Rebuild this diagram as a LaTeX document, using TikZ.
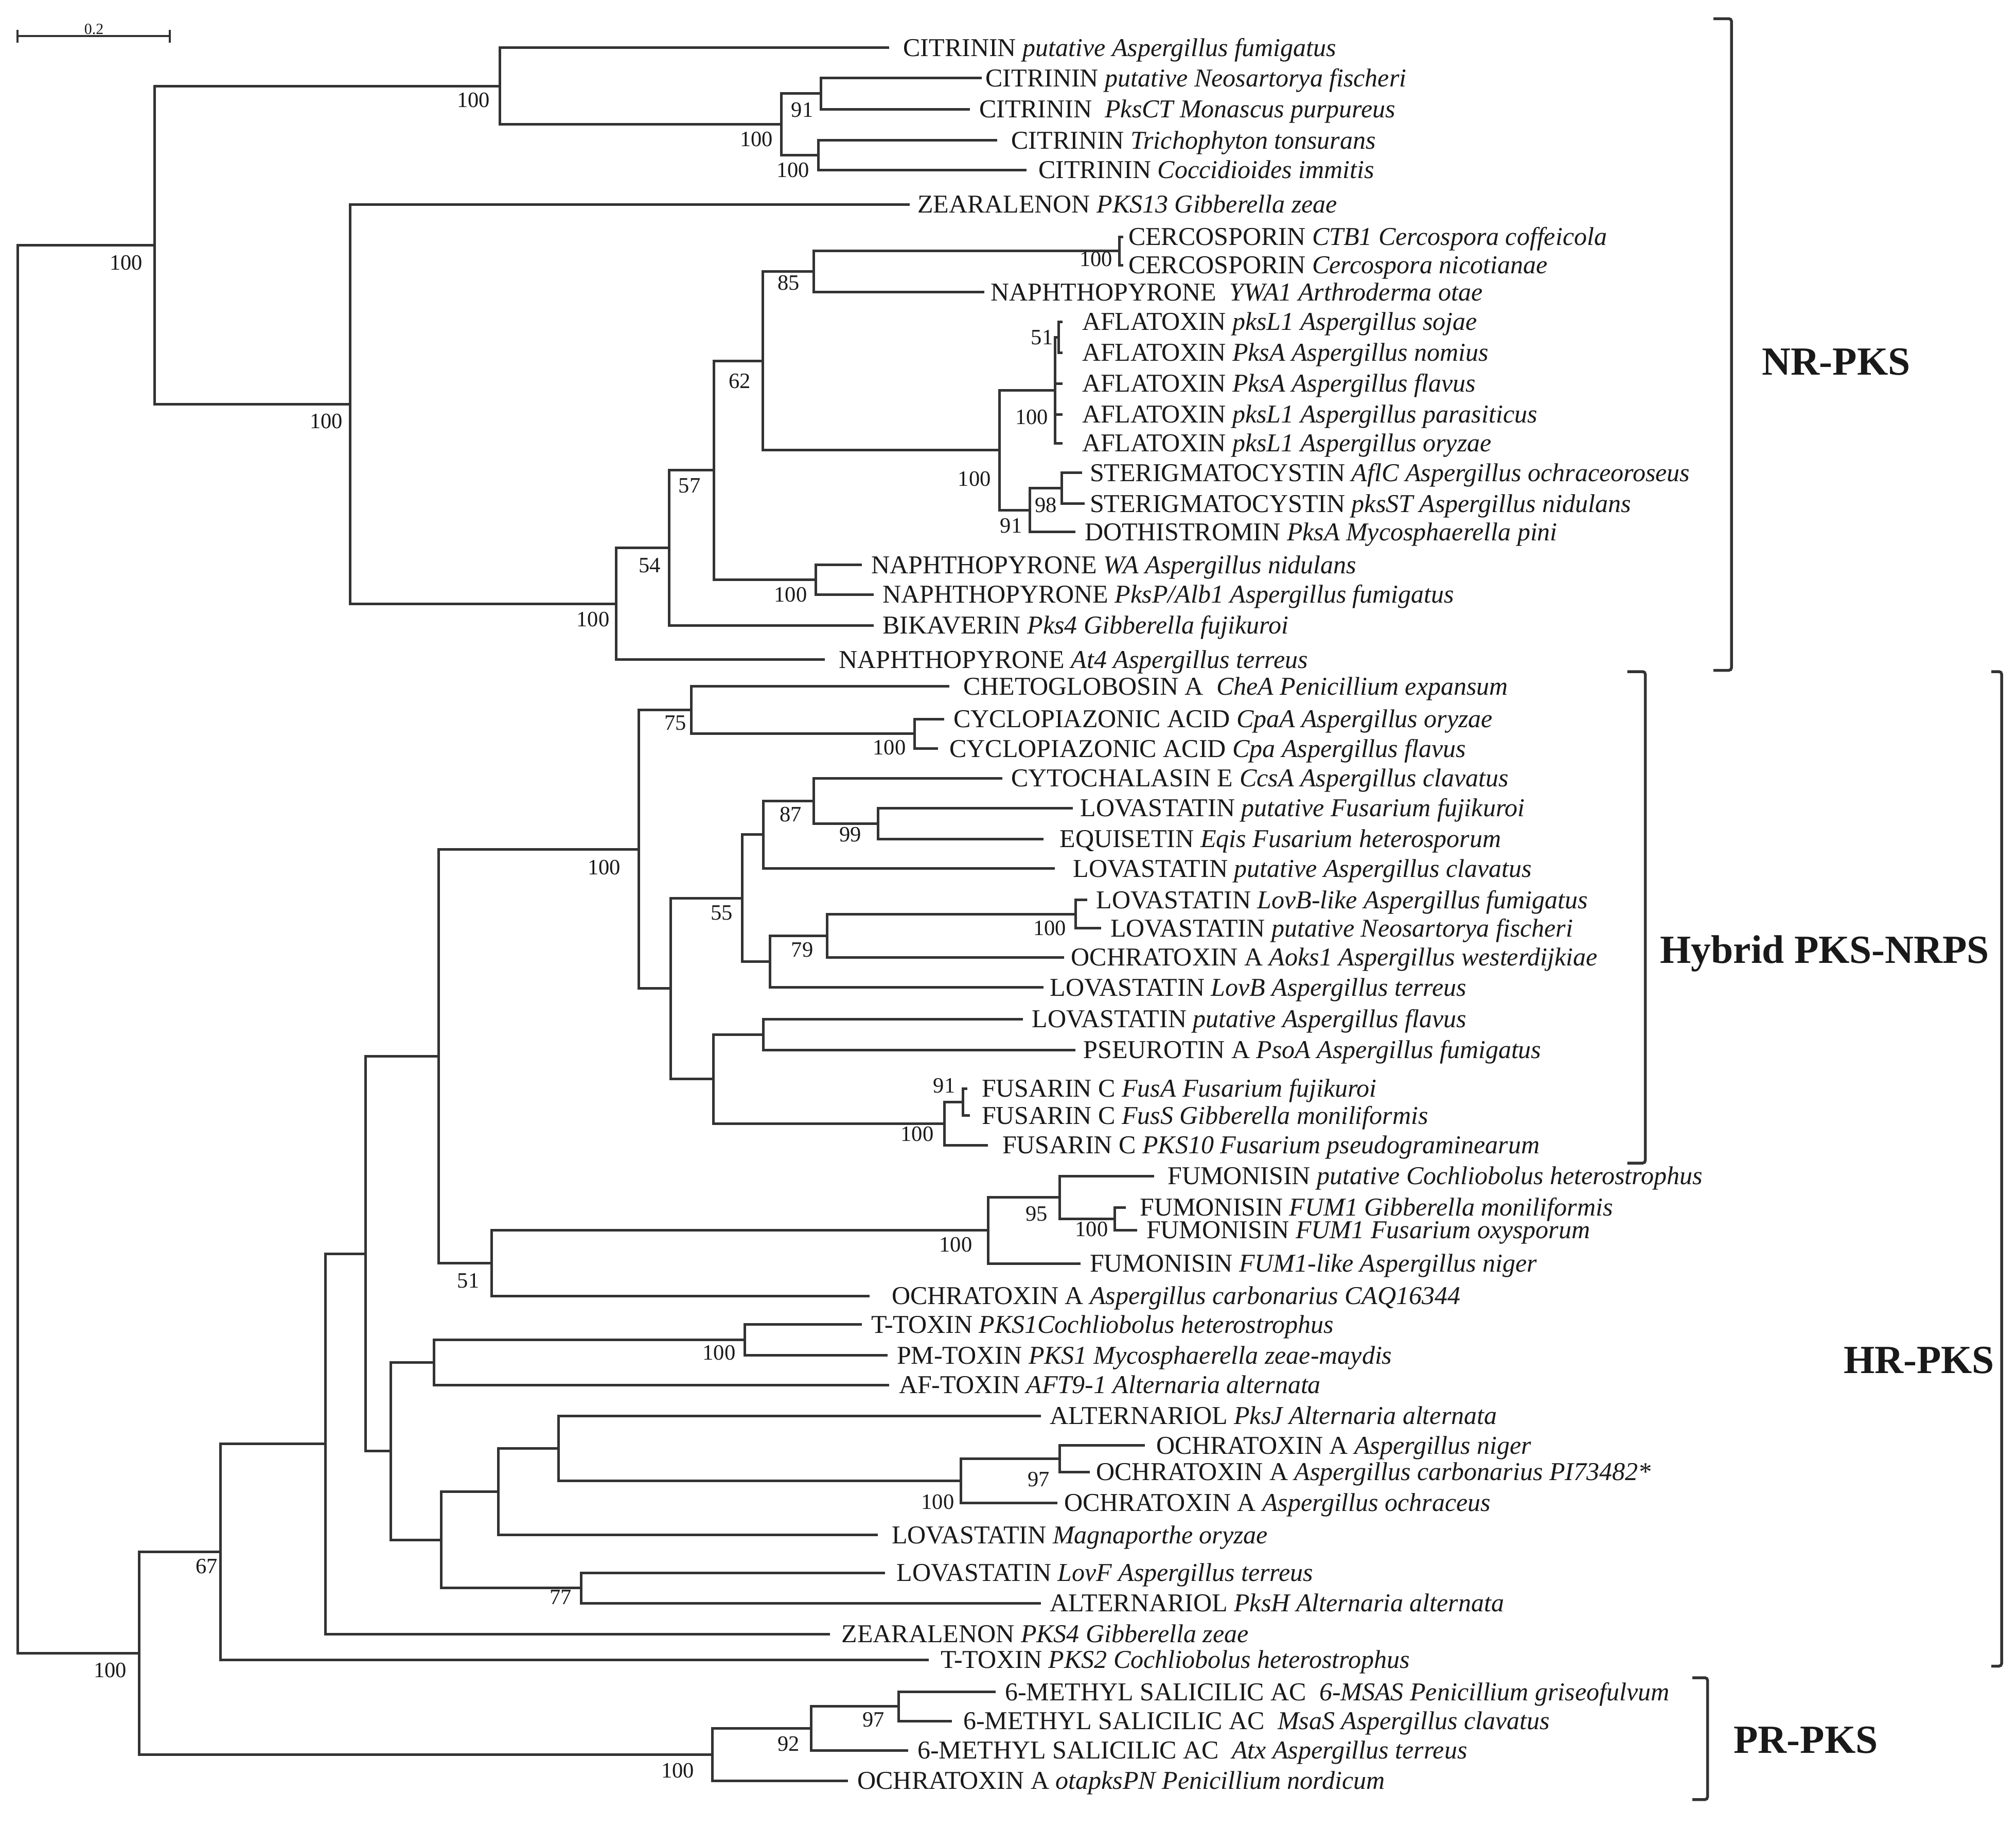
\documentclass[tikz,border=0pt]{standalone}
\usepackage{fontspec}
\setmainfont{Liberation Serif}
\begin{document}
\begin{tikzpicture}[x=1pt,y=-1pt,
 br/.style={line width=2pt, draw=black!80},
 leaf/.style={anchor=west, inner sep=0pt, font=\fontsize{20}{24}\selectfont, text height=13.3pt, text depth=0pt, text=black!90},
 bs/.style={anchor=center, inner sep=0pt, font=\fontsize{17}{20}\selectfont, text height=11.6pt, text depth=0pt, text=black!90},
 grp/.style={anchor=west, inner sep=0pt, font=\fontsize{31}{36}\selectfont\bfseries, text height=21pt, text depth=0pt, text=black!90},
 brk/.style={line width=2.2pt, draw=black!80, rounded corners=2pt},
 sc/.style={inner sep=0pt, font=\fontsize{12}{14}\selectfont, text=black!90}]
\fill[white] (0,0) rectangle (1567.2,1421.2);
\useasboundingbox (0,0) rectangle (1567.2,1421.2);
% internal nodes
\coordinate (root) at (13.6,737.7);
\coordinate (A) at (120,190.4);
\coordinate (B) at (388.6,66.8);
\coordinate (G) at (607.5,96.6);
\coordinate (H) at (638,72.7);
\coordinate (I) at (636,120.5);
\coordinate (C) at (272,314);
\coordinate (D) at (479,469.2);
\coordinate (E) at (520,425.7);
\coordinate (F) at (555,365.5);
\coordinate (J) at (593,280.4);
\coordinate (K) at (634,450.5);
\coordinate (L) at (632.5,211);
\coordinate (M) at (870,195);
\coordinate (N) at (777,349.9);
\coordinate (O) at (820,303.25);
\coordinate (Q) at (823,262);
\coordinate (P) at (800.4,396.5);
\coordinate (R) at (825.4,379.5);
\coordinate (AY) at (108,1284.9);
\coordinate (AX) at (171.4,1206.1);
\coordinate (AQ) at (252.9,1122.2);
\coordinate (AJ) at (284,974.5);
\coordinate (AH) at (341,821);
\coordinate (T) at (496.4,660.1);
\coordinate (S) at (537.5,551.9);
\coordinate (AG) at (711,570.3);
\coordinate (U) at (521.4,768.3);
\coordinate (Y) at (577,698);
\coordinate (X) at (593.2,648.7);
\coordinate (V) at (632.5,622.4);
\coordinate (W) at (682.5,640);
\coordinate (Z) at (598.6,747.4);
\coordinate (AA) at (643,727.2);
\coordinate (AB) at (836,710.5);
\coordinate (AC) at (554.6,838.6);
\coordinate (AD) at (593.2,804);
\coordinate (AE) at (734,873.2);
\coordinate (AF) at (748.6,856.5);
\coordinate (AI) at (382,981.8);
\coordinate (AK) at (768,956.3);
\coordinate (AL) at (823.6,930.6);
\coordinate (AM) at (866.4,947.2);
\coordinate (AN) at (303.6,1127.9);
\coordinate (AO) at (337.5,1059);
\coordinate (AR) at (579,1041.5);
\coordinate (AP) at (342.9,1196.8);
\coordinate (AS) at (387.5,1159.4);
\coordinate (AU) at (434,1125.7);
\coordinate (AV) at (746.8,1150.9);
\coordinate (AW) at (823.6,1133.8);
\coordinate (AT) at (451.8,1234.3);
\coordinate (AZ) at (553.6,1363.7);
\coordinate (BA) at (630.7,1343.4);
\coordinate (BB) at (698.6,1326.3);
% leaf tips and labels
\foreach \i/\tx/\lx/\y/\txt in {
 1/691/702/37/{CITRININ \textit{putative Aspergillus fumigatus}},
 2/763/766/60.6/{CITRININ \textit{putative Neosartorya fischeri}},
 3/754/761/84.8/{CITRININ\hspace{0.5em}\textit{PksCT Monascus purpureus}},
 4/775/786/109/{CITRININ \textit{Trichophyton tonsurans}},
 5/798/807/132/{CITRININ \textit{Coccidioides immitis}},
 6/707/713/158.8/{ZEARALENON \textit{PKS13 Gibberella zeae}},
 7/873/877/184/{CERCOSPORIN \textit{CTB1 Cercospora coffeicola}},
 8/873/877/206/{CERCOSPORIN \textit{Cercospora nicotianae}},
 9/765/770/227/{NAPHTHOPYRONE\hspace{0.5em}\textit{YWA1 Arthroderma otae}},
 10/826/841/250/{AFLATOXIN \textit{pksL1 Aspergillus sojae}},
 11/826/841/274/{AFLATOXIN \textit{PksA Aspergillus nomius}},
 12/826/841/298/{AFLATOXIN \textit{PksA Aspergillus flavus}},
 13/826/841/322/{AFLATOXIN \textit{pksL1 Aspergillus parasiticus}},
 14/826/841/344.5/{AFLATOXIN \textit{pksL1 Aspergillus oryzae}},
 15/841/847/367.5/{STERIGMATOCYSTIN \textit{AflC Aspergillus ochraceoroseus}},
 16/843/847/391.5/{STERIGMATOCYSTIN \textit{pksST Aspergillus nidulans}},
 17/836/843/413.5/{DOTHISTROMIN \textit{PksA Mycosphaerella pini}},
 18/670/677/439/{NAPHTHOPYRONE \textit{WA Aspergillus nidulans}},
 19/679/686/462/{NAPHTHOPYRONE \textit{PksP/Alb1 Aspergillus fumigatus}},
 20/679/686/486/{BIKAVERIN \textit{Pks4 Gibberella fujikuroi}},
 21/641/652/512.7/{NAPHTHOPYRONE \textit{At4 Aspergillus terreus}},
 22/738/748.6/533.5/{CHETOGLOBOSIN A\hspace{0.5em}\textit{CheA Penicillium expansum}},
 23/734/741/558.8/{CYCLOPIAZONIC ACID \textit{CpaA Aspergillus oryzae}},
 24/729/738/581.8/{CYCLOPIAZONIC ACID \textit{Cpa Aspergillus flavus}},
 25/779/786/604.8/{CYTOCHALASIN E \textit{CcsA Aspergillus clavatus}},
 26/834/839.6/628/{LOVASTATIN \textit{putative Fusarium fujikuroi}},
 27/811/823.6/652/{EQUISETIN \textit{Eqis Fusarium heterosporum}},
 28/820/834/675/{LOVASTATIN \textit{putative Aspergillus clavatus}},
 29/845/852/699.4/{LOVASTATIN \textit{LovB-like Aspergillus fumigatus}},
 30/856/863/721.5/{LOVASTATIN \textit{putative Neosartorya fischeri}},
 31/827/832.5/744/{OCHRATOXIN A \textit{Aoks1 Aspergillus westerdijkiae}},
 32/811/816/767.5/{LOVASTATIN \textit{LovB Aspergillus terreus}},
 33/795/802/792/{LOVASTATIN \textit{putative Aspergillus flavus}},
 34/836/842/816/{PSEUROTIN A \textit{PsoA Aspergillus fumigatus}},
 35/752/763/846/{FUSARIN C \textit{FusA Fusarium fujikuroi}},
 36/754/763/867/{FUSARIN C \textit{FusS Gibberella moniliformis}},
 37/768/779/890/{FUSARIN C \textit{PKS10 Fusarium pseudograminearum}},
 38/897/907.5/914/{FUMONISIN \textit{putative Cochliobolus heterostrophus}},
 39/875/886/938.5/{FUMONISIN \textit{FUM1 Gibberella moniliformis}},
 40/884/891/956/{FUMONISIN \textit{FUM1 Fusarium oxysporum}},
 41/840/847/982/{FUMONISIN \textit{FUM1-like Aspergillus niger}},
 42/676/693/1007.3/{OCHRATOXIN A \textit{Aspergillus carbonarius CAQ16344}},
 43/670/677/1029.5/{T-TOXIN \textit{PKS1Cochliobolus heterostrophus}},
 44/690/697/1053.5/{PM-TOXIN \textit{PKS1 Mycosphaerella zeae-maydis}},
 45/691/698.6/1076.5/{AF-TOXIN \textit{AFT9-1 Alternaria alternata}},
 46/809/816/1100.5/{ALTERNARIOL \textit{PksJ Alternaria alternata}},
 47/890/898.6/1123.5/{OCHRATOXIN A \textit{Aspergillus niger}},
 48/847/852/1144/{OCHRATOXIN A \textit{Aspergillus carbonarius PI73482*}},
 49/822/827/1168/{OCHRATOXIN A \textit{Aspergillus ochraceus}},
 50/682.5/693/1193/{LOVASTATIN \textit{Magnaporthe oryzae}},
 51/688/696.8/1222.5/{LOVASTATIN \textit{LovF Aspergillus terreus}},
 52/809/816/1246/{ALTERNARIOL \textit{PksH Alternaria alternata}},
 53/645/654/1270/{ZEARALENON \textit{PKS4 Gibberella zeae}},
 54/722/731/1290/{T-TOXIN \textit{PKS2 Cochliobolus heterostrophus}},
 55/774/781/1315/{6-METHYL SALICILIC AC\hspace{0.5em}\textit{6-MSAS Penicillium griseofulvum}},
 56/740/748.6/1337.6/{6-METHYL SALICILIC AC\hspace{0.5em}\textit{MsaS Aspergillus clavatus}},
 57/706/713/1360.4/{6-METHYL SALICILIC AC\hspace{0.5em}\textit{Atx Aspergillus terreus}},
 58/659/666.4/1384/{OCHRATOXIN A \textit{otapksPN Penicillium nordicum}}}
 {\coordinate (t\i) at (\tx,\y);
  \node[leaf] (n\i) at (\lx,\y) {\txt};}
% branches
\foreach \p/\c in {root/A, root/AY, A/B, A/C,
 B/t1, B/G, G/H, G/I, H/t2, H/t3, I/t4, I/t5,
 C/t6, C/D, D/E, D/t21, E/F, E/t20, F/J, F/K, K/t18, K/t19,
 J/L, J/N, L/M, L/t9, M/t7, M/t8,
 N/O, N/P, O/Q, O/t12, O/t13, O/t14, Q/t10, Q/t11,
 P/R, P/t17, R/t15, R/t16,
 AY/AX, AY/AZ, AX/AQ, AX/t54, AQ/AJ, AQ/t53, AJ/AH, AJ/AN,
 AH/T, AH/AI, T/S, T/U, S/t22, S/AG, AG/t23, AG/t24,
 U/Y, U/AC, Y/X, Y/Z, X/V, X/t28, V/t25, V/W, W/t26, W/t27,
 Z/AA, Z/t32, AA/AB, AA/t31, AB/t29, AB/t30,
 AC/AD, AC/AE, AD/t33, AD/t34, AE/AF, AE/t37, AF/t35, AF/t36,
 AI/AK, AI/t42, AK/AL, AK/t41, AL/t38, AL/AM, AM/t39, AM/t40,
 AN/AO, AN/AP, AO/AR, AO/t45, AR/t43, AR/t44,
 AP/AS, AP/AT, AS/AU, AS/t50, AU/t46, AU/AV, AV/AW, AV/t49, AW/t47, AW/t48,
 AT/t51, AT/t52,
 AZ/BA, AZ/t58, BA/BB, BA/t57, BB/t55, BB/t56}
 {\draw[br] (\p) |- (\c);}
% bootstrap values
\foreach \k/\bx/\by/\v in {
 1/368/77.6/100, 2/98/204/100, 3/253.6/327/100, 4/461/481/100, 5/505/439/54,
 6/536/377/57, 7/588/108/100, 8/623.6/85/91, 9/616.4/132/100, 10/613/219.4/85,
 11/575/296/62, 12/852/201/100, 13/810/262/51, 14/802/324/100, 15/757.5/372/100,
 16/813/392.5/98, 17/786/408.5/91, 18/614.6/462/100, 19/469.6/674/100, 20/525/561.5/75,
 21/691.4/580.6/100, 22/614.6/632.7/87, 23/661/648.5/99, 24/561/709/55, 25/816/721/100,
 26/623.6/738/79, 27/713/881/100, 28/734/843.6/91, 29/364/995/51, 30/743/967/100,
 31/805.7/943/95, 32/848.6/955/100, 33/559/1051/100, 34/729/1167/100, 35/807.5/1149.6/97,
 36/435.7/1241/77, 37/160.7/1217/67, 38/85.7/1298/100, 39/526.8/1376/100, 40/613/1355/92,
 41/679/1336.5/97}
 {\node[bs] (bs\k) at (\bx,\by) {\v};}
% scale bar
\coordinate (sa) at (13.6,28);
\coordinate (sb) at (132,28);
\draw[line width=1.6pt, draw=black!80] (sa) -- (sb);
\draw[line width=1.6pt, draw=black!80] ([yshift=-5pt]sa) -- ([yshift=5pt]sa);
\draw[line width=1.6pt, draw=black!80] ([yshift=-5pt]sb) -- ([yshift=5pt]sb);
\node[sc, anchor=south] (sl) at (73,27) {0.2};
% group brackets
\draw[brk] (1332,14.5) -- (1346,14.5) -- (1346,521) -- (1332,521);
\draw[brk] (1265,522) -- (1279,522) -- (1279,904) -- (1265,904);
\draw[brk] (1548,522) -- (1556,522) -- (1556,1295) -- (1548,1295);
\draw[brk] (1315.6,1304) -- (1327.4,1304) -- (1327.4,1398.7) -- (1315.6,1398.7);
\node[grp] (g1) at (1369.4,281) {NR-PKS};
\node[grp] (g2) at (1290.4,738) {Hybrid PKS-NRPS};
\node[grp] (g3) at (1433,1057) {HR-PKS};
\node[grp] (g4) at (1347.6,1352) {PR-PKS};
\end{tikzpicture}
\end{document}
